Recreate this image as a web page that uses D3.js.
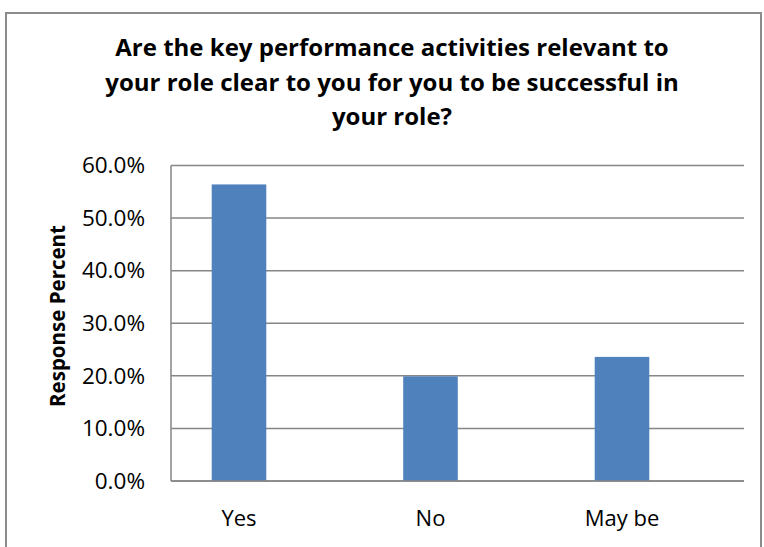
<!DOCTYPE html>
<html>
<head>
<meta charset="utf-8">
<script src="https://cdn.jsdelivr.net/npm/d3@7"></script>
<style>
  html, body { margin: 0; padding: 0; background: #fff; }
  svg { display: block; }
  text { font-family: "Open Sans", "Noto Sans", sans-serif; fill: #000; }
</style>
</head>
<body>
<svg id="chart" width="764" height="547"></svg>
<script>
// Survey responses
const categories = ["Yes", "No", "May be"];
const responsePercent = [0.564, 0.199, 0.236];
const yTickValues = [0, 0.1, 0.2, 0.3, 0.4, 0.5, 0.6];
const titleLines = [
  "Are the key performance activities relevant to",
  "your role clear to you for you to be successful in",
  "your role?"
];
const yAxisTitle = "Response Percent";

const W = 764, H = 547;
const plot = { left: 171, right: 744, top: 165.5, bottom: 481 };

const svg = d3.select("#chart");

// outer chart frame
svg.append("rect")
  .attr("x", 6).attr("y", 13)
  .attr("width", W - 9).attr("height", H)
  .attr("fill", "#fff")
  .attr("stroke", "#8c8c8c").attr("stroke-width", 2);

const y = d3.scaleLinear().domain([0, 0.6]).range([plot.bottom, plot.top]);

// category slots are offset to the left of the plot frame
const x = d3.scaleBand()
  .domain(categories)
  .range([143.25, 717.75])
  .paddingInner(0.715)
  .paddingOuter(0.3575);

// gridlines
svg.append("g")
  .selectAll("line")
  .data(yTickValues)
  .join("line")
  .attr("x1", plot.left).attr("x2", plot.right)
  .attr("y1", d => y(d)).attr("y2", d => y(d))
  .attr("stroke", "#868686").attr("stroke-width", 1.5);

// y axis line
svg.append("line")
  .attr("x1", plot.left).attr("x2", plot.left)
  .attr("y1", plot.top).attr("y2", plot.bottom)
  .attr("stroke", "#868686").attr("stroke-width", 1.5);

// y tick labels
const yAxis = d3.axisLeft(y)
  .tickValues(yTickValues)
  .tickFormat(d3.format(".1%"))
  .tickSize(0)
  .tickPadding(0);
const gy = svg.append("g")
  .attr("transform", `translate(145,0)`)
  .call(yAxis);
gy.select(".domain").remove();
gy.selectAll("text")
  .attr("font-family", "'Open Sans', sans-serif")
  .attr("font-size", 22.5)
  .attr("fill", "#000");

// bars
svg.append("g")
  .selectAll("rect")
  .data(categories.map((c, i) => ({ c, v: responsePercent[i] })))
  .join("rect")
  .attr("x", d => x(d.c))
  .attr("width", x.bandwidth())
  .attr("y", d => y(d.v))
  .attr("height", d => y(0) - y(d.v))
  .attr("fill", "#4f81bd");

// redraw baseline above bars
svg.append("line")
  .attr("x1", plot.left).attr("x2", plot.right)
  .attr("y1", y(0)).attr("y2", y(0))
  .attr("stroke", "#868686").attr("stroke-width", 1.5);

// x category labels
const xAxis = d3.axisBottom(x).tickSize(0).tickPadding(0);
const gx = svg.append("g")
  .attr("transform", `translate(0,${plot.bottom + 29})`)
  .call(xAxis);
gx.select(".domain").remove();
gx.selectAll("text")
  .attr("font-family", "'Open Sans', sans-serif")
  .attr("font-size", 22)
  .attr("fill", "#000");

// title
svg.append("g")
  .selectAll("text")
  .data(titleLines)
  .join("text")
  .attr("x", 392)
  .attr("y", (d, i) => 56 + i * 34.5)
  .attr("text-anchor", "middle")
  .attr("font-size", 24)
  .attr("font-weight", "bold")
  .text(d => d);

// y axis title
svg.append("text")
  .attr("transform", "translate(65,316) rotate(-90)")
  .attr("text-anchor", "middle")
  .attr("font-size", 20.5)
  .attr("font-weight", "bold")
  .text(yAxisTitle);
</script>
</body>
</html>
